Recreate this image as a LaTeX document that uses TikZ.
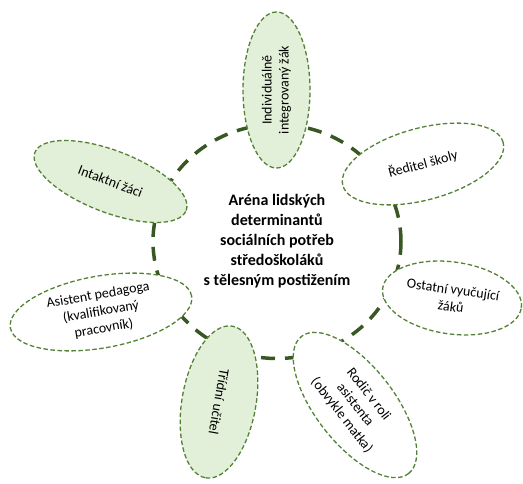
\documentclass[tikz,border=0pt]{standalone}
\usepackage{fontspec}
\setmainfont{Carlito}
\usepackage{xcolor}
\usepackage{tikz}
\usetikzlibrary{shapes.geometric}
\definecolor{ringgreen}{HTML}{385723}
\definecolor{edgegreen}{HTML}{548235}
\definecolor{softgreen}{HTML}{E2F0D9}
\tikzset{
  arenaring/.style={ellipse,draw=ringgreen,line width=3.5pt,dash pattern=on 14pt off 10pt,
    align=center,font=\fontsize{16}{20}\selectfont\bfseries},
  actor/.style={ellipse,draw=edgegreen,line width=1.3pt,dash pattern=on 4.5pt off 2.5pt,
    fill=white,inner sep=0pt,align=center,font=\fontsize{14}{17}\selectfont},
  pupil/.style={actor,fill=softgreen}
}

\begin{document}
\begin{tikzpicture}[x=1pt,y=1pt]
  \useasboundingbox (0,0) rectangle (523,484);
  % ring of the arena
  \node[arenaring,minimum width=248,minimum height=234] (arena) at (277,242.5)
    {Aréna lidských\\determinantů\\sociálních potřeb\\středoškoláků\\s tělesným postižením};
  % actors round the ring
  \node[pupil,rotate=90,minimum width=156,minimum height=67] (indiv) at (276.5,394) {Individuálně\\integrovaný žák};
  \node[actor,rotate=15,minimum width=166,minimum height=72] (director) at (423,320) {Ředitel školy};
  \node[actor,rotate=-8,minimum width=140,minimum height=72] (teachers) at (452,186) {Ostatní vyučující\\žáků};
  \node[actor,rotate=-52,minimum width=174,minimum height=78] (parent) at (355,79) {Rodič v roli\\asistenta\\(obvykle matka)};
  \node[pupil,rotate=-100,minimum width=154,minimum height=74] (classteacher) at (219,82) {Třídní učitel};
  \node[actor,rotate=10,minimum width=184,minimum height=72] (assistant) at (101,172) {Asistent pedagoga\\(kvalifikovaný\\pracovník)};
  \node[pupil,rotate=-21,minimum width=162,minimum height=62] (peers) at (110.5,302.5) {Intaktní žáci};
\end{tikzpicture}
\end{document}
